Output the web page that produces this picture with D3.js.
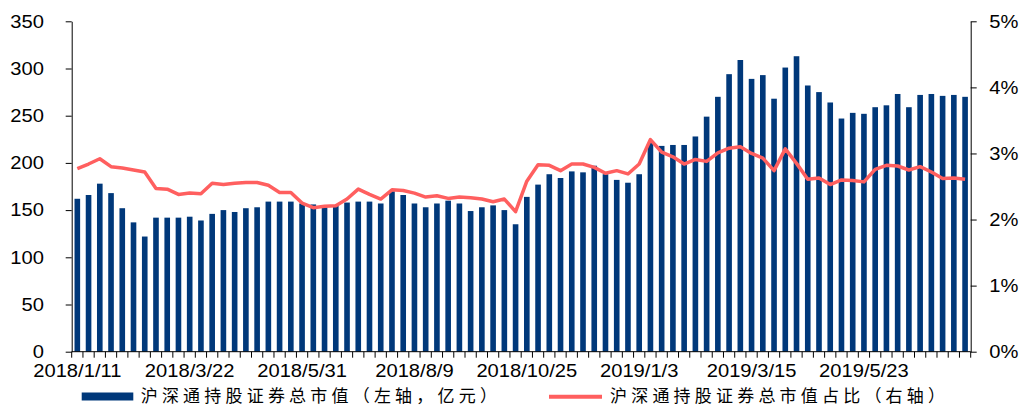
<!DOCTYPE html>
<html>
<head>
<meta charset="utf-8">
<script src="https://cdn.jsdelivr.net/npm/d3@7"></script>
<style>
  body { margin: 0; background: #fff; }
  svg { display: block; }
  .axis text { font-family: "Liberation Sans", Arial, sans-serif; font-size: 18px; fill: #000; }
  .axis path, .axis line { stroke: #000; }
</style>
</head>
<body>
<div id="chart"></div>
<script>
// weekly dates
const dates = [
  "2018/1/11","2018/1/18","2018/1/25","2018/2/1","2018/2/8","2018/2/15","2018/2/22","2018/3/1","2018/3/8","2018/3/15",
  "2018/3/22","2018/3/29","2018/4/5","2018/4/12","2018/4/19","2018/4/26","2018/5/3","2018/5/10","2018/5/17","2018/5/24",
  "2018/5/31","2018/6/7","2018/6/14","2018/6/21","2018/6/28","2018/7/5","2018/7/12","2018/7/19","2018/7/26","2018/8/2",
  "2018/8/9","2018/8/16","2018/8/23","2018/8/30","2018/9/6","2018/9/13","2018/9/20","2018/9/27","2018/10/11","2018/10/18",
  "2018/10/25","2018/11/1","2018/11/8","2018/11/15","2018/11/22","2018/11/29","2018/12/6","2018/12/13","2018/12/20","2018/12/27",
  "2019/1/3","2019/1/10","2019/1/17","2019/1/24","2019/1/31","2019/2/7","2019/2/14","2019/2/21","2019/2/28","2019/3/7",
  "2019/3/15","2019/3/21","2019/3/28","2019/4/4","2019/4/11","2019/4/18","2019/4/25","2019/5/2","2019/5/9","2019/5/16",
  "2019/5/23","2019/5/30","2019/6/6","2019/6/13","2019/6/20","2019/6/27","2019/7/4","2019/7/11","2019/7/18","2019/7/25"
];

// 沪深通持股证券总市值（亿元）
const marketValue = [
  162, 166, 178, 168, 152, 137, 122, 142, 142, 142,
  143, 139, 146, 150, 148, 152, 153, 159, 159, 159,
  157, 156, 153, 155, 158, 159, 159, 157, 170, 166,
  157, 153, 157, 160, 157, 149, 153, 155, 150, 135,
  164, 177, 188, 184, 191, 190, 197, 188, 182, 179,
  188, 221, 218, 219, 219, 228, 249, 270, 294, 309,
  289, 293, 268, 301, 313, 282, 275, 264, 247, 253,
  252, 259, 261, 273, 259, 272, 273, 271, 272, 270
];

// 占比（%）
const sharePct = [
  2.77, 2.84, 2.92, 2.80, 2.78, 2.75, 2.72, 2.47, 2.46, 2.38,
  2.40, 2.39, 2.55, 2.53, 2.55, 2.56, 2.56, 2.52, 2.41, 2.41,
  2.25, 2.18, 2.20, 2.21, 2.31, 2.46, 2.38, 2.31, 2.45, 2.44,
  2.40, 2.34, 2.36, 2.32, 2.34, 2.33, 2.31, 2.27, 2.31, 2.12,
  2.58, 2.83, 2.82, 2.74, 2.84, 2.84, 2.79, 2.70, 2.74, 2.69,
  2.84, 3.21, 3.02, 2.95, 2.84, 2.91, 2.88, 3.01, 3.08, 3.10,
  3.00, 2.93, 2.74, 3.07, 2.85, 2.61, 2.63, 2.53, 2.60, 2.59,
  2.57, 2.76, 2.82, 2.81, 2.75, 2.80, 2.72, 2.62, 2.63, 2.61
];

const leftTicks = [0, 50, 100, 150, 200, 250, 300, 350];
const rightTicks = [0, 1, 2, 3, 4, 5];
const legendLabels = ["沪深通持股证券总市值（左轴，亿元）", "沪深通持股证券总市值占比（右轴）"];

const width = 1022, height = 405;
const plot = { left: 71.7, right: 970.7, top: 21.3, bottom: 351.7 };
const barColor = "#00387a", lineColor = "#ff5f5f";
const sx = 1.12; // horizontal stretch of the tick labels

const svg = d3.select("#chart").append("svg")
  .attr("width", width)
  .attr("height", height);

const x = d3.scaleBand()
  .domain(dates)
  .range([plot.left, plot.right])
  .paddingInner(0.5)
  .paddingOuter(0.25);

const yLeft = d3.scaleLinear().domain([0, 350]).range([plot.bottom, plot.top]);
const yRight = d3.scaleLinear().domain([0, 5]).range([plot.bottom, plot.top]);

// bars
svg.append("g").selectAll("rect")
  .data(marketValue)
  .join("rect")
  .attr("x", (d, i) => x(dates[i]))
  .attr("y", d => yLeft(d))
  .attr("width", x.bandwidth())
  .attr("height", d => yLeft(0) - yLeft(d))
  .attr("fill", barColor);

// ratio line
const line = d3.line()
  .x((d, i) => x(dates[i]) + x.bandwidth() / 2)
  .y(d => yRight(d));

svg.append("path")
  .datum(sharePct)
  .attr("d", line)
  .attr("fill", "none")
  .attr("stroke", lineColor)
  .attr("stroke-width", 3.5)
  .attr("stroke-linejoin", "round");

// left axis
const gl = svg.append("g")
  .attr("class", "axis")
  .attr("transform", `translate(${plot.left},0)`)
  .call(d3.axisLeft(yLeft).tickValues(leftTicks).tickSize(6).tickSizeOuter(0));
gl.selectAll("text")
  .attr("x", -27.7 / sx)
  .attr("transform", `scale(${sx},1)`);

// right axis
const gr = svg.append("g")
  .attr("class", "axis")
  .attr("transform", `translate(${plot.right},0)`)
  .call(d3.axisRight(yRight).tickValues(rightTicks).tickSize(6).tickSizeOuter(0)
    .tickFormat(d => d + "%"));
gr.selectAll("text")
  .attr("x", 18.6 / sx)
  .attr("transform", `scale(${sx},1)`);

// bottom axis: boundary ticks, labels every 10 weeks
const gx = svg.append("g")
  .attr("class", "axis")
  .attr("transform", `translate(0,${plot.bottom})`);
gx.append("line")
  .attr("x1", plot.left).attr("x2", plot.right)
  .attr("stroke", "#000");
const step = x.step();
const firstEdge = x(dates[0]) - x.paddingInner() * step / 2;
gx.selectAll("line.tick")
  .data(d3.range(dates.length + 1))
  .join("line")
  .attr("class", "tick")
  .attr("x1", i => firstEdge + i * step)
  .attr("x2", i => firstEdge + i * step)
  .attr("y1", 0).attr("y2", 6)
  .attr("stroke", "#000");
gx.selectAll("g.lbl")
  .data(dates.filter((d, i) => i % 10 === 0))
  .join("g")
  .attr("class", "lbl")
  .attr("transform", d => `translate(${x(d) + x.bandwidth() / 2},0)`)
  .append("text")
  .attr("transform", `scale(${sx},1)`)
  .attr("y", 25)
  .attr("text-anchor", "middle")
  .text(d => d);

// legend
const legend = svg.append("g")
  .style("font-family", "'Noto Sans CJK SC', sans-serif")
  .style("font-size", "17px")
  .style("letter-spacing", "4.2px");
legend.append("rect")
  .attr("x", 81.7).attr("y", 392.5)
  .attr("width", 51.6).attr("height", 8)
  .attr("fill", barColor);
legend.append("text")
  .attr("x", 140.7).attr("y", 394)
  .attr("dominant-baseline", "central")
  .text(legendLabels[0]);
legend.append("line")
  .attr("x1", 549).attr("x2", 602)
  .attr("y1", 396.7).attr("y2", 396.7)
  .attr("stroke", lineColor)
  .attr("stroke-width", 4);
legend.append("text")
  .attr("x", 610).attr("y", 394)
  .attr("dominant-baseline", "central")
  .text(legendLabels[1]);
</script>
</body>
</html>
